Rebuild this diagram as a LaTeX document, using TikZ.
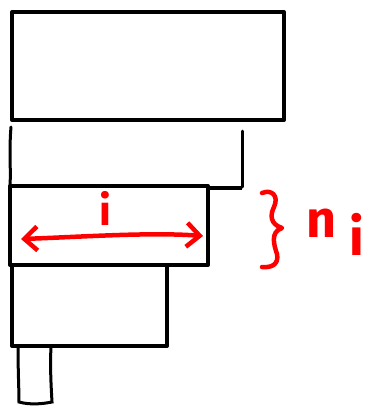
\documentclass[tikz,border=0pt]{standalone}
\usepackage{fontspec}
\setmainfont{Fira Sans}
\usetikzlibrary{arrows.meta}
\begin{document}
\begin{tikzpicture}[x=1pt,y=-1pt,
  box/.style={draw=black,line width=4pt,line join=round},
  ink/.style={draw=black,line width=3pt,line cap=round},
  redink/.style={draw=red,line width=4.5pt,line cap=round,line join=round},
  lbl/.style={text=red,inner sep=0pt,anchor=base west}]
\useasboundingbox (0,0) rectangle (368,408);
% top box
\draw[box] (12,12) rectangle (284,120);
% partial box
\draw[ink] (11,127) .. controls (9,150) and (11,170) .. (10,186);
\draw[ink] (242,131) -- (242,187);
\draw[box] (208,188) -- (242,188);
% highlighted box
\draw[box] (10,186) rectangle (208,265);
% lower box
\draw[box] (12,265) rectangle (167,346);
% small box
\draw[ink] (18,347) .. controls (18,370) and (19,390) .. (19,402)
  .. controls (30,405) and (42,404) .. (52,402)
  .. controls (51,385) and (50,365) .. (51,347);
% arrow
\coordinate (aL) at (21,239);
\coordinate (aR) at (203,236);
\draw[redink,{Straight Barb[length=13pt,width=24pt]}-{Straight Barb[length=13pt,width=24pt]}] (aL) .. controls (80,237) and (150,232) .. (aR);
\node[lbl,font=\bfseries\fontsize{42}{42}\selectfont] (i) at (99,225) {i};
% brace
\draw[redink] (262,193) .. controls (272,189) and (279,196) .. (274,207)
  .. controls (270,215) and (270,224) .. (282,228)
  .. controls (270,232) and (274,245) .. (277,254)
  .. controls (279,264) and (272,268) .. (262,267);
\node[lbl,font=\bfseries\fontsize{52}{52}\selectfont] (n) at (306,237) {n};
\node[lbl,font=\bfseries\fontsize{52}{52}\selectfont] (ni) at (349,255) {i};
\end{tikzpicture}
\end{document}
